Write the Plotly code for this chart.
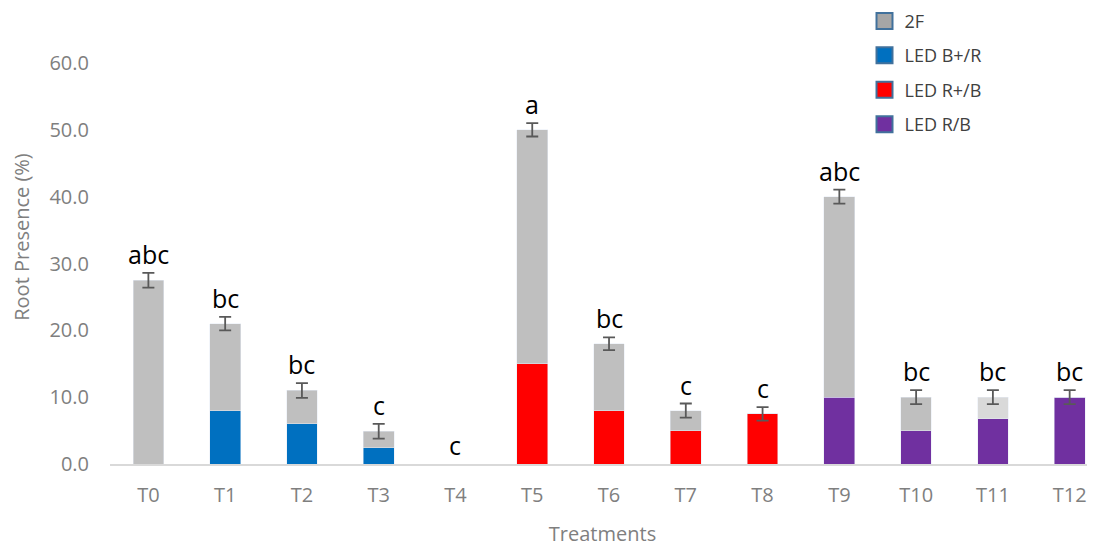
import plotly.graph_objects as go

treatments = ["T0", "T1", "T2", "T3", "T4", "T5", "T6", "T7", "T8", "T9", "T10", "T11", "T12"]
gray_2f =   [27.5, 13.0, 5.0, 2.5, 0, 35.0, 10.0, 3.0, 0, 30.0, 5.0, 3.2, 0]
led_bp_r =  [0, 8.0, 6.0, 2.4, 0, 0, 0, 0, 0, 0, 0, 0, 0]
led_rp_b =  [0, 0, 0, 0, 0, 15.0, 8.0, 5.0, 7.5, 0, 0, 0, 0]
led_r_b =   [0, 0, 0, 0, 0, 0, 0, 0, 0, 10.0, 5.0, 6.8, 10.0]
errors =    [1.1, 1.0, 1.1, 1.1, None, 1.0, 0.95, 1.05, 1.0, 1.05, 1.05, 1.05, 1.05]
letters =   ["abc", "bc", "bc", "c", "c", "a", "bc", "c", "c", "abc", "bc", "bc", "bc"]

gray_colors = ["#bfbfbf"] * 13
gray_colors[11] = "#d9d9d9"

totals = [g + b + r + p for g, b, r, p in zip(gray_2f, led_bp_r, led_rp_b, led_r_b)]

font = "Open Sans"
fig = go.Figure()

fig.add_bar(x=treatments, y=led_bp_r, marker_color="#0070c0", showlegend=False, width=0.4)
fig.add_bar(x=treatments, y=led_rp_b, marker_color="#ff0000", showlegend=False, width=0.4)
fig.add_bar(x=treatments, y=led_r_b, marker_color="#7030a0", showlegend=False, width=0.4)
fig.add_bar(x=treatments, y=gray_2f, marker_color=gray_colors, showlegend=False, width=0.4)

# error bars on totals
err_y = [t if e is not None else None for t, e in zip(totals, errors)]
fig.add_scatter(
    x=treatments, y=err_y, mode="markers", marker=dict(size=1, opacity=0),
    error_y=dict(type="data", array=[e if e is not None else 0 for e in errors],
                 color="#595959", thickness=1.8, width=6),
    showlegend=False, hoverinfo="skip",
)

# legend entries
legend_items = [("2F", "#a6a6a6"), ("LED B+/R", "#0070c0"), ("LED R+/B", "#ff0000"), ("LED R/B", "#7030a0")]
for i, (name, col) in enumerate(legend_items):
    fig.add_scatter(
        x=[None], y=[None], mode="markers", name=name, legendgroup=str(i),
        marker=dict(symbol="square", size=16, color=col, line=dict(color="#41719c", width=2)),
    )

for t, tot, e, lab in zip(treatments, totals, errors, letters):
    fig.add_annotation(
        x=t, y=tot + (e or 0), text=lab, showarrow=False, yanchor="bottom",
        yshift=0, font=dict(family=font, size=25, color="#000000"),
    )

fig.update_layout(
    width=1095, height=545,
    margin=dict(l=102, r=8, t=2, b=89, autoexpand=False),
    paper_bgcolor="white", plot_bgcolor="white",
    barmode="stack", bargap=0.6,
    legend=dict(x=0.766, y=1.016, xanchor="left", yanchor="top",
                font=dict(family=font, size=18, color="#404040"),
                tracegroupgap=8, bgcolor="rgba(0,0,0,0)"),
    xaxis=dict(
        range=[-0.5, 12.33], showline=True, linecolor="#d9d9d9", linewidth=1.5,
        showgrid=False, ticks="", ticklabelstandoff=12, automargin=False,
        tickfont=dict(family=font, size=20, color="#7f7f7f"),
        title=dict(text="Treatments", font=dict(family=font, size=20, color="#7f7f7f"), standoff=20),
    ),
    yaxis=dict(
        range=[0, 67.93], tickvals=[0, 10, 20, 30, 40, 50, 60], tickformat=".1f",
        showgrid=False, zeroline=False, automargin=False,
        showline=False, ticks="", ticklabelstandoff=20,
        tickfont=dict(family=font, size=20, color="#7f7f7f"),
        title=dict(text="Root Presence (%)", font=dict(family=font, size=20, color="#7f7f7f"), standoff=15),
    ),
)

fig.write_html("out.html")
